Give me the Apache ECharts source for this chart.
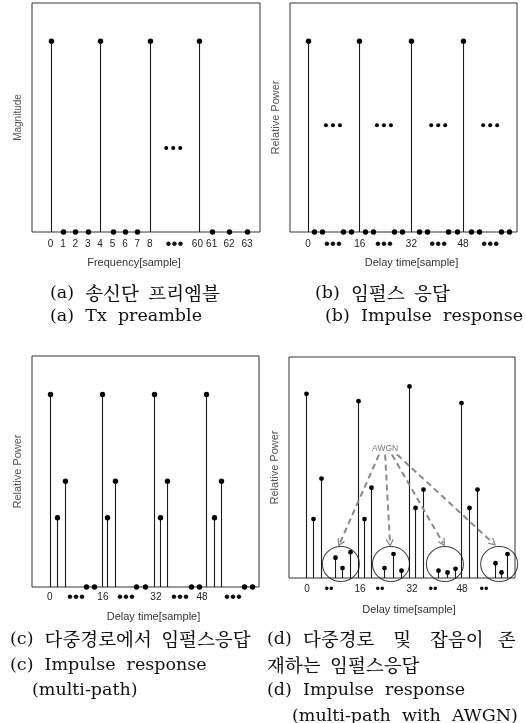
<!DOCTYPE html>
<html><head><meta charset="utf-8">
<script src="https://cdn.jsdelivr.net/npm/echarts@6/dist/echarts.min.js"></script>
<style>html,body{margin:0;padding:0;background:#fff}#c{width:525px;height:723px}</style>
</head><body><div id="c"></div>
<script>
// ---------- (a) Tx preamble ----------
const freqTickLabels = ['0','1','2','3','4','5','6','7','8','•••','60','61','62','63'];
const freqTickPos = [0,1,2,3,4,5,6,7,8,10,11.85,13,14.4,15.85];
const freqSamplePos = [0,1,2,3,4,5,6,7,8,12,13,14.4,15.85];
const preambleMagnitude = [1,0,0,0,1,0,0,0,1,1,0,0,0];
const preambleGapMarks = [[9.9,0.44]];

// ---------- (b) Impulse response ----------
const delayTickLabels = ['0','•••','16','•••','32','•••','48','•••'];
const impulseTickPos = [0,7.7,16,23.5,32,40.3,48,56.4];
const impulseDelay = [0,1.9,4.3,10.8,13.3, 15.8,17.7,20.1,26.6,29.1, 31.9,34.4,36.9,43.4,46.1, 48,50.5,53,59.8,62.2];
const impulsePower = [1,0,0,0,0, 1,0,0,0,0, 1,0,0,0,0, 1,0,0,0,0];
const impulseGapMarks = [[7.7,0.56],[23.5,0.56],[40.3,0.56],[56.4,0.56]];

// ---------- (c) Impulse response (multi-path) ----------
const multipathTickPos = [0,8,16.3,23.4,32.6,40,46.8,56.3];
const multipathDelay = [0,2.15,4.6,11.1,13.5, 16,17.5,20,26.5,29.2, 32,33.8,36,43.4,45.8, 48,50.5,52.6,59.7,62.2];
const multipathPower = [1,0.36,0.55,0,0, 1,0.36,0.55,0,0, 1,0.36,0.55,0,0, 1,0.36,0.55,0,0];

// ---------- (d) Impulse response (multi-path with AWGN) ----------
const awgnTickLabels = ['0','••','16','••','32','••','48','••'];
const awgnTickPos = [0.3,7.1,16.7,22.9,32.8,39.3,48.3,55.1];
const awgnDelay = [0,2.2,4.6,9.0,11.1,13.6, 16.1,18.0,20.1,24.1,26.9,29.4, 31.9,33.7,36.2,40.9,43.7,46.1, 48,50.5,52.9,58.5,60.4,62.2];
const awgnPower = [1.0,0.32,0.54,0.11,0.054,0.14, 0.96,0.32,0.49,0.054,0.13,0.04, 1.04,0.38,0.48,0.04,0.03,0.05, 0.95,0.38,0.48,0.08,0.03,0.13];
const noiseCircleCenters = [[10.8,0.076],[26.3,0.076],[43.0,0.076],[59.8,0.076]];
const awgnLabelPos = [24.5,0.70];
const awgnArrowStarts = [[22.6,0.67],[24.5,0.67],[26.6,0.67],[28.2,0.67]];
const awgnArrowEnds = [[10.5,0.19],[26.0,0.19],[42.4,0.19],[57.9,0.19]];

// ---------- captions ----------
const captionA = ['(a)  {k|송신단  프리엠블}', '(a)  Tx  preamble'];
const captionB = ['(b)  {k|임펄스  응답}', '(b)  Impulse  response'];
const captionC = ['(c)  {k|다중경로에서  임펄스응답}', '(c)  Impulse  response', '(multi-path)'];
const captionD = ['(d)  {k|다중경로    및    잡음이   존}', '{k|재하는  임펄스응답}', '(d)  Impulse  response', '(multi-path  with  AWGN)'];

const SANS = "'Liberation Sans', Arial, sans-serif";
const CAP = "'DejaVu Serif', 'Liberation Serif', serif";
const KR = "'Noto Serif CJK KR', 'Noto Sans CJK KR', sans-serif";

function zip(xs, ys) { return xs.map((x, i) => [x, ys[i]]); }
function labelFor(labels, pos) {
  return v => {
    const i = pos.findIndex(p => Math.abs(p - v) < 1e-6);
    if (i < 0) return '';
    return labels[i].indexOf('•') >= 0 ? '{d|' + labels[i] + '}' : labels[i];
  };
}

const grids = [
  {left: 32, top: 3, width: 228, height: 229},
  {left: 290, top: 3, width: 227, height: 229},
  {left: 32, top: 356, width: 227, height: 231},
  {left: 289, top: 357, width: 226, height: 221}
].map(g => Object.assign(g, {show: true, borderColor: '#333', borderWidth: 1, backgroundColor: 'transparent', containLabel: false, outerBoundsMode: 'none'}));

function xAxisCfg(gi, min, max, labels, pos, name, nameGap, margin, namePad, dotSize) {
  return {
    type: 'value', gridIndex: gi, min: min, max: max,
    axisLine: {show: false}, axisTick: {show: false}, splitLine: {show: false},
    axisLabel: {
      customValues: pos, formatter: labelFor(labels, pos), fontSize: 10, color: '#222',
      fontFamily: SANS, margin: margin, hideOverlap: false, showMinLabel: true, showMaxLabel: true,
      rich: {d: {fontSize: dotSize, fontFamily: SANS, color: '#111', lineHeight: 11}}
    },
    name: name, nameLocation: 'middle', nameGap: nameGap,
    nameTextStyle: {fontSize: 11, color: '#333', fontFamily: SANS, padding: namePad}
  };
}
function yAxisCfg(gi, name, size) {
  return {
    type: 'value', gridIndex: gi, min: 0, max: 1.2,
    axisLine: {show: false}, axisTick: {show: false}, splitLine: {show: false}, axisLabel: {show: false},
    name: name, nameLocation: 'middle', nameGap: 9,
    nameTextStyle: {fontSize: size, color: '#555', fontFamily: SANS}
  };
}
function stemSeries(gi, data, r) {
  return {
    type: 'custom', xAxisIndex: gi, yAxisIndex: gi, data: data, clip: false, silent: true,
    renderItem: (params, api) => {
      const x = api.value(0), y = api.value(1);
      const b = api.coord([x, 0]), t = api.coord([x, y]);
      const cx = Math.round(b[0]) + 0.5;
      const ch = [];
      if (y > 0) ch.push({type: 'line', shape: {x1: cx, y1: b[1], x2: cx, y2: t[1]}, style: {stroke: '#1a1a1a', lineWidth: 1.1}});
      ch.push({type: 'circle', shape: {cx: cx, cy: t[1], r: r}, style: {fill: '#000'}});
      return {type: 'group', children: ch};
    }
  };
}
function gapSeries(gi, data) {
  return {
    type: 'custom', xAxisIndex: gi, yAxisIndex: gi, data: data, silent: true,
    renderItem: (params, api) => {
      const c = api.coord([api.value(0), api.value(1)]);
      return {type: 'group', children: [-7, 0, 7].map(dx => ({type: 'circle', shape: {cx: c[0] + dx, cy: c[1], r: 2}, style: {fill: '#000'}}))};
    }
  };
}

const captionTitles = [];
function addCaption(lines, lefts, centers) {
  lines.forEach((t, i) => {
    captionTitles.push({
      text: t, left: lefts[i], top: centers[i] - 11, padding: 0, itemGap: 0,
      textStyle: {fontFamily: CAP, fontSize: 17.5, fontWeight: 'normal', color: '#111', lineHeight: 22,
        rich: {k: {fontFamily: KR, fontSize: 18.5, fontWeight: 500, color: '#111', lineHeight: 22}}}
    });
  });
}
addCaption(captionA, [50, 50], [293, 316]);
addCaption(captionB, [315, 325], [293, 316]);
addCaption(captionC, [10, 10, 32], [639, 665, 690]);
addCaption(captionD, [267, 267, 267, 292], [639, 665, 690, 716]);

const option = {
  animation: false,
  backgroundColor: '#fff',
  title: captionTitles,
  grid: grids,
  xAxis: [
    xAxisCfg(0, -1.5, 16.9, freqTickLabels, freqTickPos, 'Frequency[sample]', 25, 7, [0, 24, 0, 0], 17),
    xAxisCfg(1, -5.6, 64.7, delayTickLabels, impulseTickPos, 'Delay time[sample]', 25, 7, [0, 0, 0, 16], 17),
    xAxisCfg(2, -5.5, 64.3, delayTickLabels, multipathTickPos, 'Delay time[sample]', 24, 5, [0, 0, 0, 16], 17),
    xAxisCfg(3, -5.26, 64.7, awgnTickLabels, awgnTickPos, 'Delay time[sample]', 26, 6, [0, 0, 0, 14], 13)
  ],
  yAxis: [
    yAxisCfg(0, 'Magnitude', 10),
    yAxisCfg(1, 'Relative Power', 11),
    yAxisCfg(2, 'Relative Power', 11),
    yAxisCfg(3, 'Relative Power', 11)
  ],
  series: [
    stemSeries(0, zip(freqSamplePos, preambleMagnitude), 2.7),
    gapSeries(0, preambleGapMarks),
    stemSeries(1, zip(impulseDelay, impulsePower), 2.7),
    gapSeries(1, impulseGapMarks),
    stemSeries(2, zip(multipathDelay, multipathPower), 2.7),
    stemSeries(3, zip(awgnDelay, awgnPower), 2.4),
    {
      type: 'scatter', xAxisIndex: 3, yAxisIndex: 3, data: noiseCircleCenters, symbol: 'circle',
      symbolSize: [37, 35], silent: true, clip: false,
      itemStyle: {color: 'rgba(0,0,0,0)', borderColor: '#111', borderWidth: 1}
    },
    {
      type: 'lines', coordinateSystem: 'cartesian2d', xAxisIndex: 3, yAxisIndex: 3, silent: true,
      data: awgnArrowStarts.map((s, i) => ({coords: [s, awgnArrowEnds[i]]})),
      lineStyle: {color: '#8a8a8a', width: 2, type: [6, 4], opacity: 1},
      symbol: ['none', 'path://M5,0 L10,9 L8.6,10 L5,3.2 L1.4,10 L0,9 Z'], symbolSize: [10, 8]
    },
    {
      type: 'scatter', xAxisIndex: 3, yAxisIndex: 3, data: [awgnLabelPos], symbolSize: 1, silent: true,
      itemStyle: {color: 'rgba(0,0,0,0)'},
      label: {show: true, position: 'inside', formatter: 'AWGN', fontSize: 8.5, color: '#555', fontFamily: SANS}
    }
  ]
};

const chart = echarts.init(document.getElementById('c'), null, {renderer: 'canvas'});
chart.setOption(option);
</script>
</body></html>
